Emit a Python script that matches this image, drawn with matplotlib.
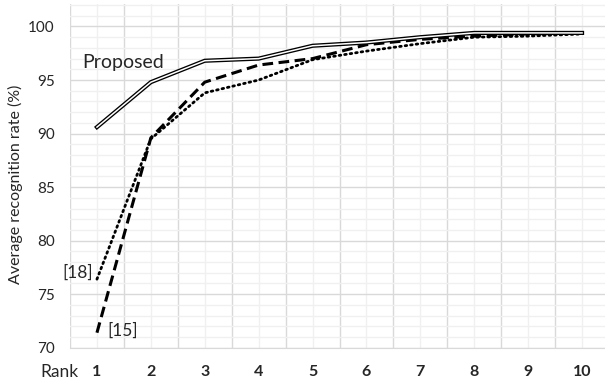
import numpy as np
import matplotlib.pyplot as plt
from matplotlib.ticker import MultipleLocator

# data
ranks = [1, 2, 3, 4, 5, 6, 7, 8, 9, 10]
proposed = [90.6, 94.8, 96.8, 97.0, 98.2, 98.5, 99.0, 99.4, 99.4, 99.4]
ref15 = [71.4, 89.6, 94.8, 96.4, 97.0, 98.3, 98.8, 99.1, 99.3, 99.4]
ref18 = [76.4, 89.5, 93.8, 95.0, 96.9, 97.7, 98.4, 99.0, 99.1, 99.3]
y_ticks = [70, 75, 80, 85, 90, 95, 100]

plt.rcParams['font.family'] = ['Lato', 'DejaVu Sans']


def main():
    fig = plt.figure(figsize=(6.05, 3.85), dpi=100)
    ax = fig.add_axes([70 / 605, 1 - 347.7 / 385, (609 - 70) / 605, (347.7 - 4) / 385])

    ax.set_xlim(0.5, 10.5)
    ax.set_ylim(70, 102.1)

    # excel-like grid: major at category borders, minor at centers
    ax.set_xticks(np.arange(0.5, 11, 1.0))
    ax.xaxis.set_minor_locator(MultipleLocator(1))
    ax.yaxis.set_major_locator(MultipleLocator(5))
    ax.yaxis.set_minor_locator(MultipleLocator(1))
    ax.grid(which='major', color='#d9d9d9', lw=1.0)
    ax.grid(which='minor', color='#f0f0f0', lw=1.0)
    ax.set_axisbelow(True)
    ax.tick_params(which='both', length=0)
    ax.set_xticklabels([])
    for s in ['top', 'right', 'left']:
        ax.spines[s].set_visible(False)
    ax.spines['bottom'].set_color('#d9d9d9')

    ax.set_yticks(y_ticks)
    ax.set_yticklabels([str(v) for v in y_ticks], fontsize=11, color='#262626')
    ax.tick_params(axis='y', pad=11)

    # lines
    ax.plot(ranks, ref18, color='black', lw=2.0, ls=(0, (0.6, 1.4)), dash_capstyle='round')
    ax.plot(ranks, ref15, color='black', lw=2.2, ls=(0, (3.5, 1.8)))
    ax.plot(ranks, proposed, color='black', lw=3.0, solid_joinstyle='miter')
    ax.plot(ranks, proposed, color='white', lw=1.1, solid_joinstyle='miter')

    # rank labels under the plot
    y_lab = 70 - 24 / 10.7
    for r in ranks:
        ax.text(r, y_lab, str(r), ha='center', va='center',
                fontsize=11.5, fontweight='bold', color='#262626')
    ax.text((79 - 97) / 53.9 + 1, y_lab, 'Rank', ha='right', va='center',
            fontsize=12.5, color='#262626')

    # annotations
    ax.text(0.72, 96.6, 'Proposed', ha='left', va='center', fontsize=14, color='#262626')
    ax.text(0.92, 77.0, '[18]', ha='right', va='center', fontsize=12.5, color='#262626')
    ax.text(1.2, 71.6, '[15]', ha='left', va='center', fontsize=12.5, color='#262626')

    fig.text(15 / 605, 1 - 184 / 385, 'Average recognition rate (%)', rotation=90,
             ha='center', va='center', fontsize=11.5, color='#262626')

    fig.savefig('out.png', dpi=100)


if __name__ == '__main__':
    main()
